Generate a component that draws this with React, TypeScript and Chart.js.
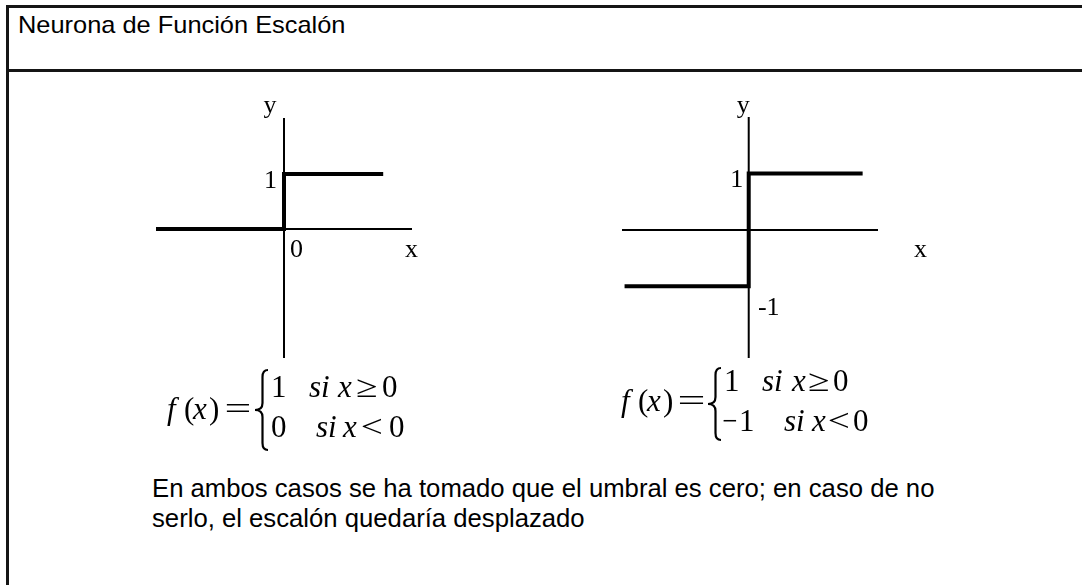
import React, { useEffect, useRef } from 'react';
import { Chart, registerables } from 'chart.js';

Chart.register(...registerables);

// ---------- text ----------
const TITLE = 'Neurona de Función Escalón';
const NOTE_LINES = [
  'En ambos casos se ha tomado que el umbral es cero; en caso de no',
  'serlo, el escalón quedaría desplazado',
];
const axisNames = ['x', 'y'];

// ---------- left panel: f(x) = 1 if x >= 0, 0 otherwise ----------
const leftStepX = [-2, 0, 0, 1.55];
const leftStepY = [0, 0, 1, 1];
const leftXLimits = [-2, 2];
const leftYLimits = [-2.35, 2.02];
const leftTickText = ['1', '0'];
const leftFormulaHead = ['f', '(', 'x', ')', '='];
const leftCaseTop = ['1', 'si', 'x', '≥', '0'];
const leftCaseBottom = ['0', 'si', 'x', '<', '0'];

// ---------- right panel: f(x) = 1 if x >= 0, -1 otherwise ----------
const rightStepX = [-1.94, 0, 0, 1.78];
const rightStepY = [-1, -1, 1, 1];
const rightXLimits = [-1.98, 2.02];
const rightYLimits = [-2.27, 2.0];
const rightTickText = ['1', '-1'];
const rightFormulaHead = ['f', '(', 'x', ')', '='];
const rightCaseTop = ['1', 'si', 'x', '≥', '0'];
const rightCaseBottom = ['−', '1', 'si', 'x', '<', '0'];

const SERIF = '"Liberation Serif", "Times New Roman", serif';
const SANS = '"Liberation Sans", Arial, Helvetica, sans-serif';

// ---------- drawing helpers ----------
function drawToken(ctx: CanvasRenderingContext2D, text: string, left: number, baseline: number, px: number, width?: number) {
  const italic = /^[a-z]+$/.test(text);
  ctx.save();
  ctx.font = `${italic ? 'italic ' : ''}${px}px ${SERIF}`;
  ctx.textAlign = 'left';
  ctx.textBaseline = 'alphabetic';
  ctx.fillStyle = '#000';
  const m = ctx.measureText(text);
  const ink = m.actualBoundingBoxLeft + m.actualBoundingBoxRight;
  const s = width && ink > 0 ? width / ink : 1;
  ctx.translate(left, baseline);
  ctx.scale(s, 1);
  ctx.fillText(text, m.actualBoundingBoxLeft, 0);
  ctx.restore();
}

function drawLabel(ctx: CanvasRenderingContext2D, text: string, cx: number, baseline: number, px = 26) {
  ctx.save();
  ctx.font = `${px}px ${SERIF}`;
  ctx.textAlign = 'center';
  ctx.textBaseline = 'alphabetic';
  ctx.fillStyle = '#000';
  ctx.fillText(text, cx, baseline);
  ctx.restore();
}

function drawBrace(ctx: CanvasRenderingContext2D, xl: number, xr: number, top: number, bottom: number) {
  const mid = (top + bottom) / 2;
  const xc = (xl + xr) / 2 + 1;
  ctx.save();
  ctx.strokeStyle = '#000';
  ctx.lineWidth = 2.2;
  ctx.lineCap = 'butt';
  ctx.beginPath();
  ctx.moveTo(xr, top);
  ctx.quadraticCurveTo(xc, top, xc, top + 7);
  ctx.lineTo(xc, mid - 7);
  ctx.quadraticCurveTo(xc, mid, xl, mid);
  ctx.quadraticCurveTo(xc, mid, xc, mid + 7);
  ctx.lineTo(xc, bottom - 7);
  ctx.quadraticCurveTo(xc, bottom, xr, bottom);
  ctx.stroke();
  ctx.restore();
}

type Row = { tokens: string[]; lefts: number[]; widths: (number | undefined)[]; baseline: number };

function drawFormula(ctx: CanvasRenderingContext2D, ox: number, oy: number, rows: Row[], brace: number[]) {
  const PX = 31;
  rows.forEach((r) => {
    r.tokens.forEach((t, i) => drawToken(ctx, t, r.lefts[i] - ox, r.baseline - oy, PX, r.widths[i]));
  });
  drawBrace(ctx, brace[0] - ox, brace[1] - ox, brace[2] - oy, brace[3] - oy);
}

type PanelCfg = {
  left: number; top: number; width: number; height: number;
  padding: { left: number; top: number; right: number; bottom: number };
  xl: number[]; yl: number[]; sx: number[]; sy: number[];
  annotate: (chart: any, px: (v: number) => number, py: (v: number) => number) => void;
};

const U = undefined;

const leftPanel: PanelCfg = {
  left: 150, top: 88, width: 290, height: 370,
  padding: { left: 6, top: 30, right: 28, bottom: 100 },
  xl: leftXLimits, yl: leftYLimits, sx: leftStepX, sy: leftStepY,
  annotate: (chart, px, py) => {
    const ctx = chart.ctx as CanvasRenderingContext2D;
    const ytop = py(leftYLimits[1]);
    drawLabel(ctx, axisNames[1], px(0) - 14, ytop - 5);
    drawLabel(ctx, leftTickText[0], px(0) - 13.5, py(1) + 14);
    drawLabel(ctx, leftTickText[1], px(0) + 12.5, py(0) + 28);
    drawLabel(ctx, axisNames[0], px(leftXLimits[1]) - 0.5, py(0) + 28);
    drawFormula(ctx, leftPanel.left, leftPanel.top, [
      { tokens: leftFormulaHead, lefts: [167, 185, 192, 210, 226], widths: [U, U, U, U, 23], baseline: 419 },
      { tokens: leftCaseTop, lefts: [273, 309, 337, 357, 383], widths: [U, U, U, 19, U], baseline: 397 },
      { tokens: leftCaseBottom, lefts: [272, 316, 342, 362, 390], widths: [U, U, U, 19, U], baseline: 437 },
    ], [255, 268, 370, 450]);
  },
};

const rightPanel: PanelCfg = {
  left: 600, top: 88, width: 340, height: 370,
  padding: { left: 22, top: 29, right: 62, bottom: 100 },
  xl: rightXLimits, yl: rightYLimits, sx: rightStepX, sy: rightStepY,
  annotate: (chart, px, py) => {
    const ctx = chart.ctx as CanvasRenderingContext2D;
    const ytop = py(rightYLimits[1]);
    drawLabel(ctx, axisNames[1], px(0) - 5.5, ytop - 4);
    drawLabel(ctx, rightTickText[0], px(0) - 12, py(1) + 14);
    drawLabel(ctx, rightTickText[1], px(0) + 20, py(-1) + 29);
    drawLabel(ctx, axisNames[0], px(rightXLimits[1]) + 42.5, py(0) + 27);
    drawFormula(ctx, rightPanel.left, rightPanel.top, [
      { tokens: rightFormulaHead, lefts: [621, 639, 646, 664, 679], widths: [U, U, U, U, 24], baseline: 411 },
      { tokens: rightCaseTop, lefts: [726, 762, 791, 809, 834], widths: [U, U, U, 19, U], baseline: 391 },
      { tokens: rightCaseBottom, lefts: [723, 741, 784, 811, 829, 854], widths: [13, U, U, U, 19, U], baseline: 431 },
    ], [708, 721, 368, 440]);
  },
};

function makeChart(canvas: HTMLCanvasElement, cfg: PanelCfg) {
  const lineDs = (data: { x: number; y: number }[], w: number) => ({
    data,
    showLine: true,
    borderColor: '#000',
    backgroundColor: '#000',
    borderWidth: w,
    pointRadius: 0,
    pointHoverRadius: 0,
    borderCapStyle: 'butt',
    borderJoinStyle: 'miter',
    tension: 0,
    fill: false,
  });
  return new Chart(canvas, {
    type: 'scatter',
    data: {
      datasets: [
        lineDs(cfg.sx.map((x, i) => ({ x, y: cfg.sy[i] })), 4),
        lineDs([{ x: cfg.xl[0], y: 0 }, { x: cfg.xl[1], y: 0 }], 2),
        lineDs([{ x: 0, y: cfg.yl[0] }, { x: 0, y: cfg.yl[1] }], 2),
      ] as any,
    },
    options: {
      responsive: false,
      maintainAspectRatio: false,
      animation: false,
      events: [],
      devicePixelRatio: 1,
      layout: { padding: cfg.padding, autoPadding: false },
      plugins: { legend: { display: false }, tooltip: { enabled: false }, title: { display: false } },
      scales: {
        x: { type: 'linear', min: cfg.xl[0], max: cfg.xl[1], display: false },
        y: { type: 'linear', min: cfg.yl[0], max: cfg.yl[1], display: false },
      },
    } as any,
    plugins: [
      {
        id: 'annotations',
        afterDatasetsDraw(chart: any) {
          const xs = chart.scales.x;
          const ys = chart.scales.y;
          cfg.annotate(chart, (v) => xs.getPixelForValue(v), (v) => ys.getPixelForValue(v));
        },
      },
    ],
  });
}

// ---------- HTML text fitting ----------
let measureCtx: CanvasRenderingContext2D | null = null;
function inkWidth(text: string, font: string) {
  if (!measureCtx) measureCtx = document.createElement('canvas').getContext('2d');
  if (!measureCtx) return 0;
  measureCtx.font = font;
  const m = measureCtx.measureText(text);
  return m.actualBoundingBoxLeft + m.actualBoundingBoxRight;
}

function FitLine({ text, left, baseline, px, scale }: { text: string; left: number; baseline: number; px: number; scale: number }) {
  return (
    <div
      style={{
        position: 'absolute',
        left,
        top: baseline - 0.8465 * px,
        fontFamily: SANS,
        fontSize: px,
        lineHeight: `${px}px`,
        whiteSpace: 'nowrap',
        color: '#000',
        transform: `scaleX(${scale})`,
        transformOrigin: 'left top',
      }}
    >
      {text}
    </div>
  );
}

export default function App() {
  const leftRef = useRef<HTMLCanvasElement>(null);
  const rightRef = useRef<HTMLCanvasElement>(null);

  useEffect(() => {
    const a = makeChart(leftRef.current!, leftPanel);
    const b = makeChart(rightRef.current!, rightPanel);
    return () => {
      a.destroy();
      b.destroy();
    };
  }, []);

  const titlePx = 24;
  const titleScale = 325 / (inkWidth(TITLE, `${titlePx}px ${SANS}`) || 325);
  const notePx = 26;
  const noteScale = 780 / (inkWidth(NOTE_LINES[0], `${notePx}px ${SANS}`) || 780);

  const frame = '#151515';
  return (
    <div style={{ position: 'absolute', left: 0, top: 0, width: 1082, height: 585, background: '#fff', overflow: 'hidden' }}>
      {/* frame */}
      <div style={{ position: 'absolute', left: 6, top: 5, width: 1090, height: 3, background: frame }} />
      <div style={{ position: 'absolute', left: 6, top: 69, width: 1090, height: 3, background: frame }} />
      <div style={{ position: 'absolute', left: 6, top: 5, width: 3, height: 600, background: frame }} />

      <FitLine text={TITLE} left={18} baseline={33} px={titlePx} scale={titleScale} />

      <canvas
        ref={leftRef}
        width={leftPanel.width}
        height={leftPanel.height}
        style={{ position: 'absolute', left: leftPanel.left, top: leftPanel.top, width: leftPanel.width, height: leftPanel.height }}
      />
      <canvas
        ref={rightRef}
        width={rightPanel.width}
        height={rightPanel.height}
        style={{ position: 'absolute', left: rightPanel.left, top: rightPanel.top, width: rightPanel.width, height: rightPanel.height }}
      />

      <FitLine text={NOTE_LINES[0]} left={152} baseline={497} px={notePx} scale={noteScale} />
      <FitLine text={NOTE_LINES[1]} left={152} baseline={527} px={notePx} scale={noteScale} />
    </div>
  );
}
